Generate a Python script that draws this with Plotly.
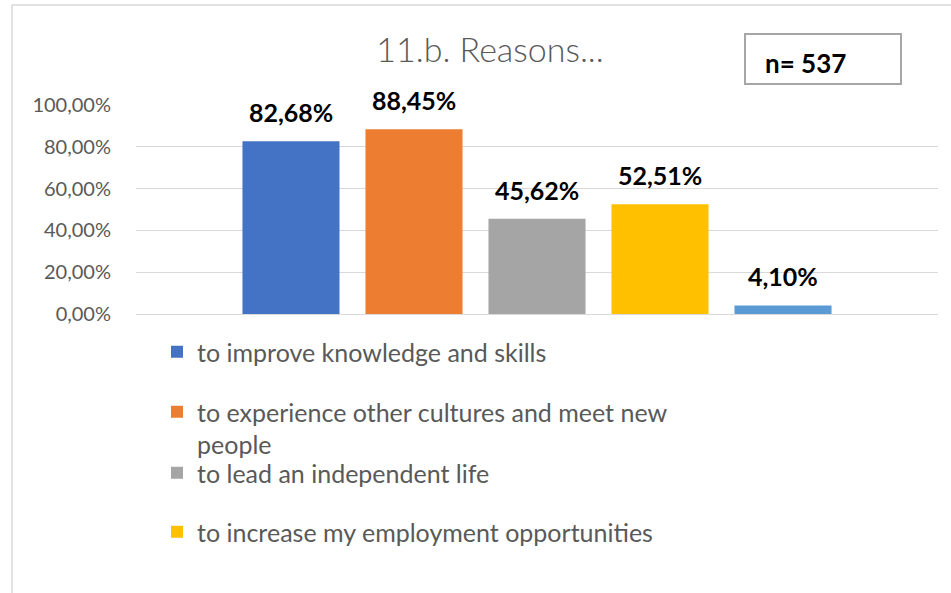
import plotly.graph_objects as go

# ---- data ----
series_names = [
    "to improve knowledge and skills",
    "to experience other cultures and meet new<br>people",
    "to lead an independent life",
    "to increase my employment opportunities",
    "other",
]
values = [0.8268, 0.8845, 0.4562, 0.5251, 0.0410]
colors = ["#4472C4", "#ED7D31", "#A5A5A5", "#FFC000", "#5B9BD5"]
show_in_legend = [True, True, True, True, False]
title_text = "11.b. Reasons..."
n_text = "n= 537"
y_ticks = [0, 0.2, 0.4, 0.6, 0.8, 1.0]

FONT = "Lato, Carlito, Calibri, sans-serif"
GRAY_TXT = "#595959"

# plot area in page pixels: x 136..938, y 105..314
PL, PR, PT, PB = 136, 938, 105, 314
def px(x):
    return (x - PL) / (PR - PL)
def py(y):
    return (PB - y) / (PB - PT)

legend_ids = ["legend", "legend2", "legend3", "legend4", "legend"]
legend_rows = [352, 412, 473, 532]   # first-line text centre of each legend row

fig = go.Figure()
for i, (name, v, c, sl) in enumerate(zip(series_names, values, colors, show_in_legend)):
    fig.add_trace(go.Bar(
        x=[i], y=[v], name=name, marker=dict(color=c, line=dict(width=0)),
        width=0.789, showlegend=sl, legend=legend_ids[i], hoverinfo="skip",
    ))
    fig.add_annotation(
        x=i, y=v, xref="x", yref="y",
        text=f"{v*100:.2f}%".replace(".", ","),
        showarrow=False, yanchor="middle", yshift=29,
        font=dict(family=FONT, size=25, color="#000000", weight="bold"),
    )

# n= box
fig.add_shape(type="rect", xref="paper", yref="paper",
              x0=px(745), x1=px(901), y0=py(84), y1=py(34),
              line=dict(color="#A6A6A6", width=2), fillcolor="rgba(0,0,0,0)")
fig.add_annotation(xref="paper", yref="paper", x=px(763), y=py(63),
                   xanchor="left", yanchor="middle", showarrow=False, text=n_text,
                   font=dict(family=FONT, size=26, color="#000000", weight="bold"))

# chart area border
fig.add_shape(type="rect", xref="paper", yref="paper",
              x0=px(12), x1=px(968), y0=py(640), y1=py(5),
              line=dict(color="#D9D9D9", width=1.5), fillcolor="rgba(0,0,0,0)", layer="below")

legend_common = dict(xanchor="left", yanchor="middle", orientation="v", valign="top",
                     font=dict(family=FONT, size=25, color=GRAY_TXT),
                     bgcolor="rgba(0,0,0,0)", itemclick=False, itemdoubleclick=False,
                     borderwidth=0)
fig.update_layout(
    width=951, height=593,
    margin=dict(l=PL, r=951 - PR, t=PT, b=593 - PB, autoexpand=False),
    paper_bgcolor="white", plot_bgcolor="white",
    separators=", ",
    barmode="overlay",
    hovermode=False,
    title=dict(text=title_text, x=490/951, y=1-50/593, xanchor="center", yanchor="middle",
               font=dict(family=FONT, size=34, color=GRAY_TXT, weight=300)),
    xaxis=dict(range=[-1.26, 5.26], showticklabels=False, showgrid=False,
               zeroline=False, showline=False, ticks="", fixedrange=True),
    yaxis=dict(range=[0, 1], tickvals=y_ticks, tickformat=".2%",
               showgrid=True, gridcolor="#D9D9D9", gridwidth=1,
               zeroline=True, zerolinecolor="#D9D9D9", zerolinewidth=1,
               showline=False, ticks="", ticklabelstandoff=24, fixedrange=True,
               tickfont=dict(family=FONT, size=20, color=GRAY_TXT)),
    legend=dict(x=px(157), y=py(legend_rows[0]), **legend_common),
    legend2=dict(x=px(157), y=py(legend_rows[1] + 16), **legend_common),
    legend3=dict(x=px(157), y=py(legend_rows[2]), **legend_common),
    legend4=dict(x=px(157), y=py(legend_rows[3]), **legend_common),
    showlegend=True,
)

fig.write_html("out.html", config={"displayModeBar": False},
               post_script="document.body.style.margin='0';")
